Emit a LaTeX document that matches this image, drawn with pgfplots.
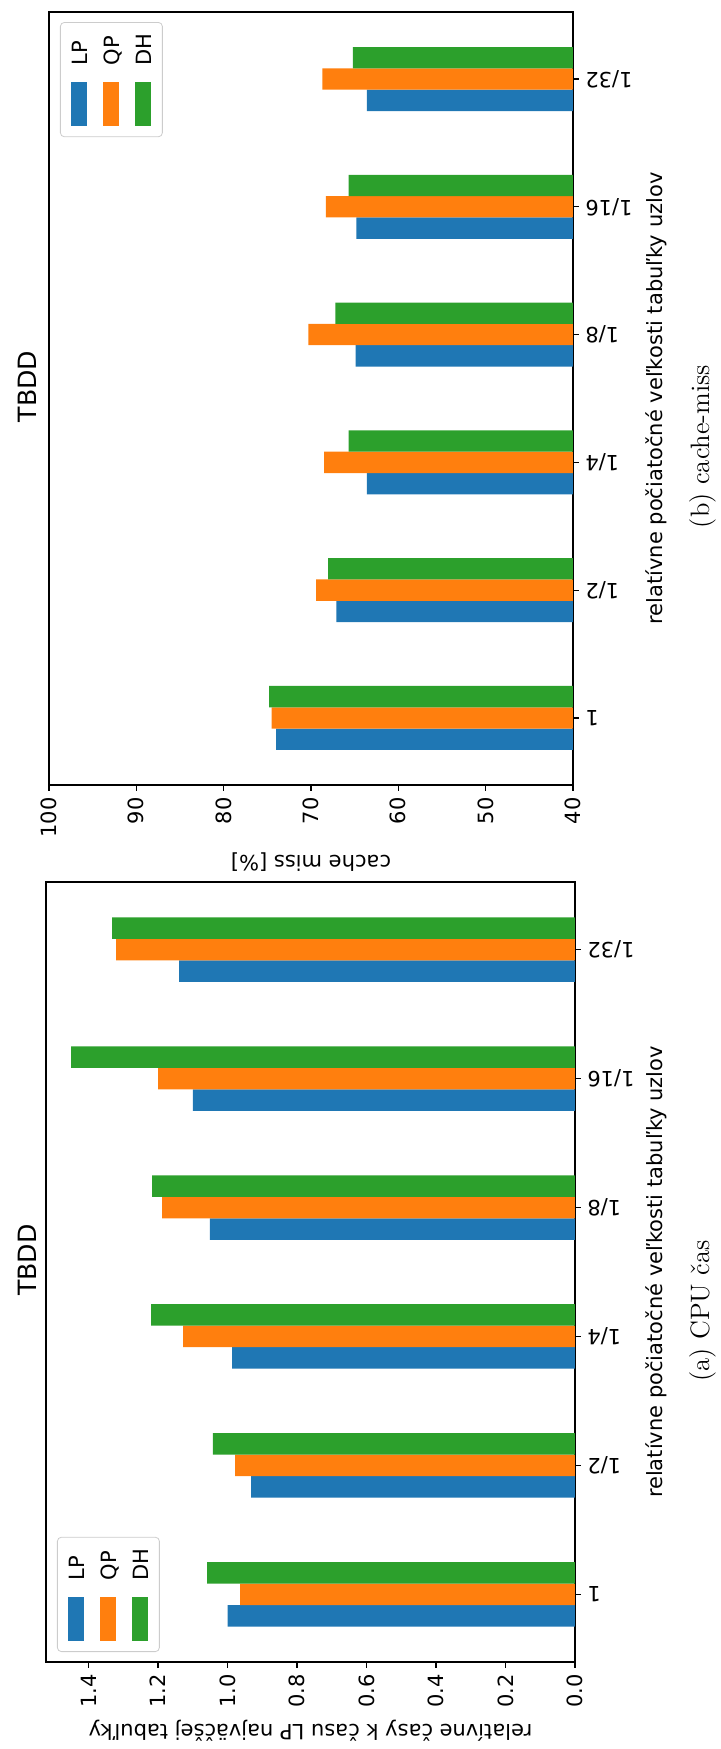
\documentclass[border=0pt]{standalone}
\usepackage{fontspec}
\usepackage{pgfplots}
\pgfplotsset{compat=1.18}
\newfontfamily\dejavu{DejaVu Sans}
\definecolor{cLP}{HTML}{1F77B4}
\definecolor{cQP}{HTML}{FF7F0E}
\definecolor{cDH}{HTML}{2CA02C}
\newcommand{\tickfont}{\dejavu\fontsize{10.5}{12.5}\selectfont}
\newcommand{\titlefont}{\dejavu\fontsize{12.6}{15}\selectfont}
\pgfplotsset{
  mybars/.style={
    xbar, scale only axis,
    bar width=0.1667,
    ymin=-0.525, ymax=5.525,
    ytick={0,...,5},
    yticklabels={1,1/2,1/4,1/8,1/16,1/32},
    x dir=reverse,
    ytick pos=right, yticklabel pos=right,
    xtick pos=bottom,
    tick align=outside, major tick length=3pt,
    axis line style={line width=0.6pt},
    every tick/.style={black, line width=0.6pt},
    tick label style={font=\tickfont, inner sep=0pt},
    xticklabel style={rotate=90, anchor=east},
    yticklabel style={rotate=180, anchor=east},
    xticklabel shift=3pt, yticklabel shift=3pt,
    /pgf/number format/assume math mode=true,
    label style={font=\tickfont},
    title style={font=\titlefont, inner sep=0pt, rotate=90, anchor=south},
    legend columns=3,
    legend image code/.code={\fill[#1, sharp corners] (0pt,-30pt) rectangle (8pt,-8pt);},
    legend style={draw=black!20, fill=white, rounded corners=2pt,
      inner sep=5.5pt, font=\tickfont, column sep=0pt,
      /tikz/every odd column/.append style={column sep=-8pt},
      /tikz/every even column/.append style={column sep=8pt},
      nodes={inner sep=0pt, rotate=90, anchor=base west, text height=8pt, text depth=0pt}},
  }
}
\begin{document}
\begin{tikzpicture}
\path[use as bounding box] (0,0) rectangle (360pt,874.5pt);

% (b) cache-miss
\begin{axis}[mybars,
  at={(24.5pt,482pt)}, anchor=south west,
  width=262pt, height=386.5pt,
  xmin=40, xmax=100, xtick={40,50,...,100},
  title={TBDD},
  title style={at={(axis description cs:-0.0229,0.5)}},
  xlabel={cache miss [\%]},
  xlabel style={at={(axis description cs:0.5,-0.0996)}, anchor=center, rotate=180},
  ylabel={relatívne počiatočné veľkosti tabuľky uzlov},
  ylabel style={at={(axis description cs:1.1584,0.5)}, anchor=center},
  legend style={at={(axis description cs:0.021,0.987)}, anchor=north west},
]
\addplot[fill=cLP, draw=none, bar shift=-0.1667] coordinates {(74.0,0) (67.1,1) (63.6,2) (64.9,3) (64.8,4) (63.6,5)};
\addplot[fill=cQP, draw=none, bar shift=0] coordinates {(74.5,0) (69.4,1) (68.5,2) (70.3,3) (68.3,4) (68.7,5)};
\addplot[fill=cDH, draw=none, bar shift=0.1667] coordinates {(74.8,0) (68.05,1) (65.7,2) (67.2,3) (65.7,4) (65.2,5)};
\legend{LP,QP,DH}
\end{axis}

% (a) CPU cas
\begin{axis}[mybars,
  at={(23pt,43.5pt)}, anchor=south west,
  width=264.5pt, height=390pt,
  xmin=0, xmax=1.5225, xtick={0,0.2,...,1.4},
  xticklabel={\pgfmathprintnumber[fixed,fixed zerofill,precision=1]{\tick}},
  title={TBDD},
  title style={at={(axis description cs:-0.017,0.5)}},
  xlabel={relatívne časy k času LP najväčšej tabuľky},
  xlabel style={at={(axis description cs:0.5,-0.0885)}, anchor=center, rotate=180},
  ylabel={relatívne počiatočné veľkosti tabuľky uzlov},
  ylabel style={at={(axis description cs:1.1531,0.5)}, anchor=center},
  legend style={at={(axis description cs:0.0208,0.0128)}, anchor=south west},
]
\addplot[fill=cLP, draw=none, bar shift=-0.1667] coordinates {(1.0,0) (0.932,1) (0.987,2) (1.051,3) (1.100,4) (1.139,5)};
\addplot[fill=cQP, draw=none, bar shift=0] coordinates {(0.964,0) (0.978,1) (1.128,2) (1.188,3) (1.200,4) (1.321,5)};
\addplot[fill=cDH, draw=none, bar shift=0.1667] coordinates {(1.059,0) (1.042,1) (1.220,2) (1.217,3) (1.450,4) (1.332,5)};
\legend{LP,QP,DH}
\end{axis}

\node[rotate=90, font=\fontsize{13.3}{16}\selectfont, inner sep=0pt] at (351.25pt,651.25pt) {(b) cache-miss};
\node[rotate=90, font=\fontsize{13.3}{16}\selectfont, inner sep=0pt] at (351.25pt,219pt) {(a) CPU čas};
\end{tikzpicture}
\end{document}
